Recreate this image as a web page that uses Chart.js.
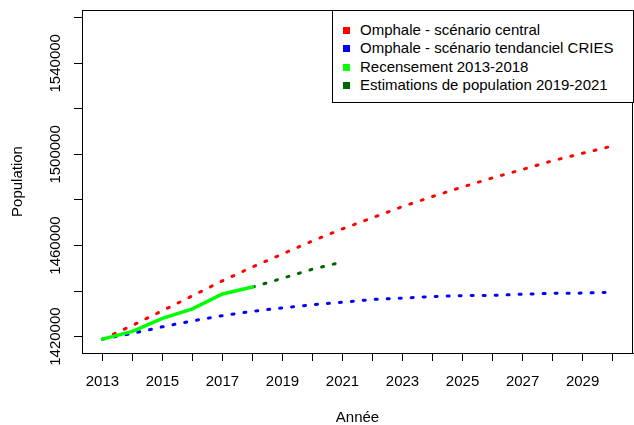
<!DOCTYPE html>
<html>
<head>
<meta charset="utf-8">
<script src="https://cdn.jsdelivr.net/npm/chart.js@4"></script>
<style>
  body { margin: 0; background: #fff; }
  #wrap { position: relative; width: 634px; height: 425px; }
  #legend { position: absolute; left: 332px; top: 10px; width: 302px; height: 93px; box-sizing: border-box;
            border: 1px solid #000; background: #fff; padding-top: 10px;
            font: 15px "Liberation Sans", Arial, sans-serif; color: #000; }
  #legend div { height: 18.4px; line-height: 18.4px; position: relative; padding-left: 27px; white-space: nowrap; }
  #legend span { position: absolute; left: 10px; top: 6px; width: 7px; height: 7px; }
</style>
</head>
<body>
<div id="wrap">
  <canvas id="popChart" width="634" height="425"></canvas>
  <div id="legend"></div>
</div>
<script>
// Données
const projYears = [2013, 2014, 2015, 2016, 2017, 2018, 2019, 2020, 2021, 2022, 2023, 2024, 2025, 2026, 2027, 2028, 2029, 2030];
const centralValues = [1418900, 1424900, 1431400, 1437900, 1444500, 1450600, 1456300, 1462000, 1467300, 1472200, 1477100, 1481500, 1485700, 1489700, 1493400, 1497200, 1500500, 1503700];
const criesValues = [1418900, 1421400, 1424300, 1426900, 1429200, 1431100, 1432600, 1434000, 1435100, 1436300, 1436900, 1437600, 1438000, 1438100, 1438600, 1439000, 1439100, 1439500];
const censusYears = [2013, 2014, 2015, 2016, 2017, 2018];
const censusValues = [1418900, 1422300, 1428000, 1432200, 1438700, 1441800];
const estimYears = [2018, 2019, 2020, 2021];
const estimValues = [1441700, 1445600, 1449600, 1452800];

const xTicks = [2013, 2014, 2015, 2016, 2017, 2018, 2019, 2020, 2021, 2022, 2023, 2024, 2025, 2026, 2027, 2028, 2029, 2030];
const xLabels = [2013, 2015, 2017, 2019, 2021, 2023, 2025, 2027, 2029];
const yTicks = [1420000, 1440000, 1460000, 1480000, 1500000, 1520000, 1540000, 1560000];
const yLabels = [1420000, 1460000, 1500000, 1540000];

const toPoints = (xs, ys) => xs.map((x, i) => ({ x: x, y: ys[i] }));
const font = { family: '"Liberation Sans", Arial, sans-serif', size: 15 };

// cadre autour de la zone de tracé
const plotBox = {
  id: 'plotBox',
  afterDatasetsDraw(chart) {
    const { ctx, chartArea: a } = chart;
    ctx.save();
    ctx.strokeStyle = '#000';
    ctx.lineWidth = 1;
    ctx.strokeRect(Math.round(a.left) + 0.5, Math.round(a.top) + 0.5,
                   Math.round(a.right - a.left) - 1, Math.round(a.bottom - a.top));
    ctx.restore();
  }
};

const dotted = { borderWidth: 3, borderDash: [2, 10], borderCapStyle: 'round', pointRadius: 0, tension: 0, fill: false };

const popChart = new Chart(document.getElementById('popChart'), {
  type: 'line',
  data: {
    datasets: [
      Object.assign({ label: 'Omphale - scénario central', data: toPoints(projYears, centralValues),
        borderColor: '#ff0000', backgroundColor: '#ff0000', order: 4 }, dotted),
      Object.assign({ label: 'Omphale - scénario tendanciel CRIES', data: toPoints(projYears, criesValues),
        borderColor: '#0000ff', backgroundColor: '#0000ff', order: 3 }, dotted),
      { label: 'Recensement 2013-2018', data: toPoints(censusYears, censusValues),
        borderColor: '#00ff00', backgroundColor: '#00ff00', borderWidth: 3.5, borderCapStyle: 'round',
        pointRadius: 0, tension: 0, order: 1 },
      Object.assign({ label: 'Estimations de population 2019-2021', data: toPoints(estimYears, estimValues),
        borderColor: '#006400', backgroundColor: '#006400', order: 2 }, dotted),
    ],
  },
  options: {
    responsive: false,
    animation: false,
    layout: { padding: { top: 10, right: 1, left: 0, bottom: 0 } },
    plugins: {
      legend: { display: false },
      tooltip: { enabled: false },
    },
    scales: {
      x: {
        type: 'linear',
        min: 2012.32,
        max: 2030.68,
        afterBuildTicks: (scale) => { scale.ticks = xTicks.map(v => ({ value: v })); },
        afterFit: (scale) => { scale.height = 72; },
        ticks: {
          autoSkip: false,
          maxRotation: 0,
          padding: 12,
          color: '#000',
          font: font,
          callback: (v) => xLabels.includes(v) ? String(v) : '',
        },
        grid: { drawOnChartArea: false, drawTicks: true, tickLength: 8, color: '#000' },
        border: { display: true, color: '#000' },
        title: { display: true, text: 'Année', color: '#000', font: font, padding: { top: 0, bottom: -2 } },
      },
      y: {
        type: 'linear',
        min: 1412800,
        max: 1563400,
        afterBuildTicks: (scale) => { scale.ticks = yTicks.map(v => ({ value: v })); },
        afterFit: (scale) => { scale.width = 82; },
        ticks: {
          autoSkip: false,
          minRotation: 90,
          maxRotation: 90,
          crossAlign: 'center',
          padding: -11,
          color: '#000',
          font: font,
          callback: (v) => yLabels.includes(v) ? String(v) : '',
        },
        grid: { drawOnChartArea: false, drawTicks: true, tickLength: 8, color: '#000' },
        border: { display: true, color: '#000' },
        title: { display: true, text: 'Population', color: '#000', font: font, padding: { top: 9, bottom: 0 } },
      },
    },
  },
  plugins: [plotBox],
});

// Légende HTML
const legendEl = document.getElementById('legend');
popChart.data.datasets.forEach((ds) => {
  const row = document.createElement('div');
  const sw = document.createElement('span');
  sw.style.background = ds.borderColor;
  row.appendChild(sw);
  row.appendChild(document.createTextNode(ds.label));
  legendEl.appendChild(row);
});
</script>
</body>
</html>
